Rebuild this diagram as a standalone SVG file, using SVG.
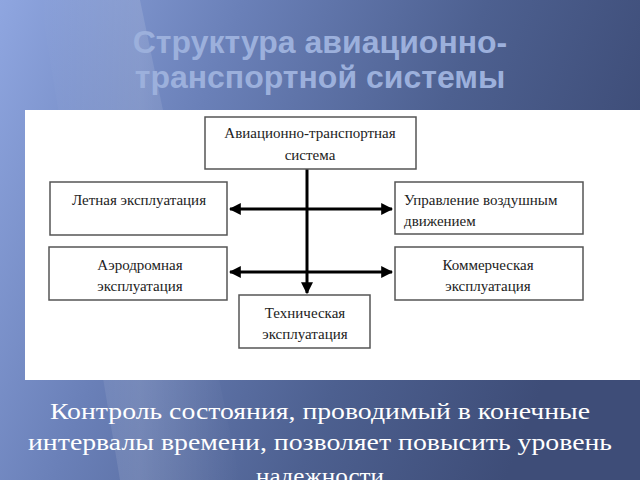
<svg xmlns="http://www.w3.org/2000/svg" width="640" height="480" viewBox="0 0 640 480">
<defs>
<linearGradient id="bg" x1="0" y1="0" x2="1" y2="0.3">
<stop offset="0" stop-color="#8fa6e0"/>
<stop offset="0.35" stop-color="#6a80b8"/>
<stop offset="0.7" stop-color="#4d6090"/>
<stop offset="1" stop-color="#3e4d78"/>
</linearGradient>
<linearGradient id="streak" x1="0" y1="0" x2="1" y2="0">
<stop offset="0" stop-color="#ffffff" stop-opacity="0"/>
<stop offset="0.5" stop-color="#ffffff" stop-opacity="0.12"/>
<stop offset="1" stop-color="#ffffff" stop-opacity="0"/>
</linearGradient>
<marker id="ah" viewBox="0 0 10 10" refX="9" refY="5" markerWidth="4" markerHeight="4" orient="auto-start-reverse" markerUnits="strokeWidth">
<path d="M0,0 L10,5 L0,10 z" fill="#000"/>
</marker>
<style>
.box{fill:#fff;stroke:#555;stroke-width:1.5}
.lbl{font-family:"Liberation Serif","Times New Roman",serif;font-size:15px;fill:#222;text-anchor:middle}
.lbll{font-family:"Liberation Serif","Times New Roman",serif;font-size:15px;fill:#222}
.con{stroke:#000;stroke-width:3;fill:none}
.title{font-family:"Liberation Sans",Arial,sans-serif;font-weight:bold;font-size:32px;fill:#9cb0dc;text-anchor:middle}
.foot{font-family:"Liberation Serif","Times New Roman",serif;font-size:24px;fill:#fff;text-anchor:middle}
</style>
</defs>
<rect width="640" height="480" fill="url(#bg)"/>
<polygon points="40,0 140,0 240,480 120,480" fill="url(#streak)"/>
<text class="title" x="320" y="53">Структура авиационно-</text>
<text class="title" x="320" y="88">транспортной системы</text>
<rect x="25" y="110" width="615" height="270" fill="#fff"/>
<g id="connectors">
<line class="con" x1="307" y1="169" x2="307" y2="293" marker-end="url(#ah)"/>
<line class="con" x1="230" y1="209" x2="392" y2="209" marker-start="url(#ah)" marker-end="url(#ah)"/>
<line class="con" x1="230" y1="272" x2="392" y2="272" marker-start="url(#ah)" marker-end="url(#ah)"/>
</g>
<g id="n-root">
<rect class="box" x="205" y="117" width="211" height="52"/>
<text class="lbl" x="310" y="138">Авиационно-транспортная</text>
<text class="lbl" x="310" y="160">система</text>
</g>
<g id="n-flight">
<rect class="box" x="50" y="182" width="177" height="53"/>
<text class="lbl" x="139" y="205">Летная эксплуатация</text>
</g>
<g id="n-atc">
<rect class="box" x="395" y="182" width="188" height="52"/>
<text class="lbll" x="404" y="205">Управление воздушным</text>
<text class="lbll" x="404" y="226">движением</text>
</g>
<g id="n-aero">
<rect class="box" x="49" y="247" width="178" height="53"/>
<text class="lbl" x="140" y="270">Аэродромная</text>
<text class="lbl" x="140" y="291">эксплуатация</text>
</g>
<g id="n-comm">
<rect class="box" x="395" y="247" width="188" height="53"/>
<text class="lbl" x="488" y="270">Коммерческая</text>
<text class="lbl" x="488" y="291">эксплуатация</text>
</g>
<g id="n-tech">
<rect class="box" x="239" y="295" width="131" height="53"/>
<text class="lbl" x="305" y="318">Техническая</text>
<text class="lbl" x="305" y="339">эксплуатация</text>
</g>
<text class="foot" x="320" y="419" textLength="540" lengthAdjust="spacingAndGlyphs">Контроль состояния, проводимый в конечные</text>
<text class="foot" x="320" y="450" textLength="584" lengthAdjust="spacingAndGlyphs">интервалы времени, позволяет повысить уровень</text>
<text class="foot" x="320" y="484" textLength="128" lengthAdjust="spacingAndGlyphs">надежности</text>
</svg>
